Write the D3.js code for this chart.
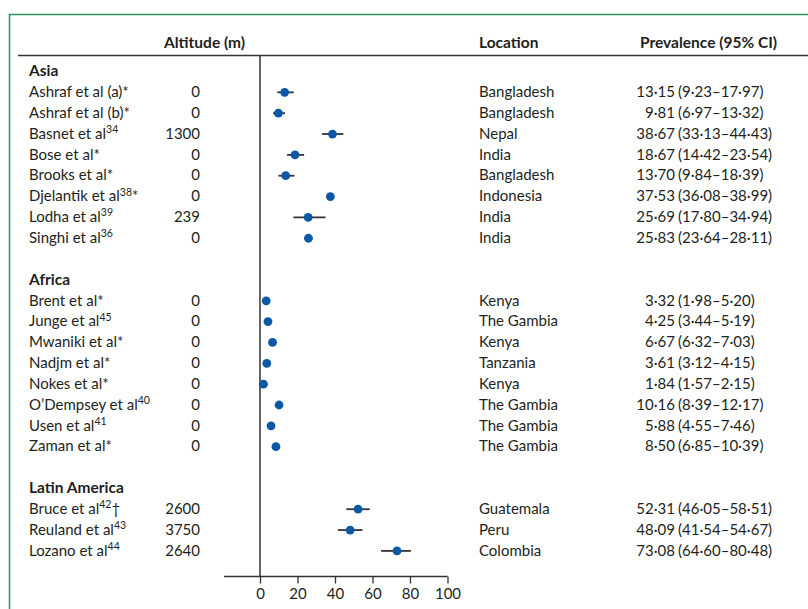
<!DOCTYPE html>
<html>
<head>
<meta charset="utf-8">
<script src="https://cdn.jsdelivr.net/npm/d3@7"></script>
<style>
  html, body { margin: 0; padding: 0; background: #fff; }
  svg { display: block; }
  text { font-family: Lato, "Open Sans", sans-serif; fill: #231f20; }
</style>
</head>
<body>
<svg id="chart" width="808" height="609"></svg>
<script>
// ---- data ----
const regions = ["Asia", "Africa", "Latin America"];
const studyRegion = [0,0,0,0,0,0,0,0, 1,1,1,1,1,1,1,1, 2,2,2];
const studyNames = [
  "Ashraf et al (a)*", "Ashraf et al (b)*", "Basnet et al", "Bose et al*", "Brooks et al*",
  "Djelantik et al", "Lodha et al", "Singhi et al",
  "Brent et al*", "Junge et al", "Mwaniki et al*", "Nadjm et al*", "Nokes et al*",
  "O\u2019Dempsey et al", "Usen et al", "Zaman et al*",
  "Bruce et al", "Reuland et al", "Lozano et al"
];
const studyRefs = ["", "", "34", "", "", "38", "39", "36",
  "", "45", "", "", "", "40", "41", "",
  "42", "43", "44"];
const studySuffix = ["", "", "", "", "", "*", "", "",
  "", "", "", "", "", "", "", "",
  "\u2020", "", ""];
const altitudes = [0, 0, 1300, 0, 0, 0, 239, 0,
  0, 0, 0, 0, 0, 0, 0, 0,
  2600, 3750, 2640];
const locations = ["Bangladesh", "Bangladesh", "Nepal", "India", "Bangladesh", "Indonesia", "India", "India",
  "Kenya", "The Gambia", "Kenya", "Tanzania", "Kenya", "The Gambia", "The Gambia", "The Gambia",
  "Guatemala", "Peru", "Colombia"];
const prevalence = [13.15, 9.81, 38.67, 18.67, 13.70, 37.53, 25.69, 25.83,
  3.32, 4.25, 6.67, 3.61, 1.84, 10.16, 5.88, 8.50,
  52.31, 48.09, 73.08];
const ciLower = [9.23, 6.97, 33.13, 14.42, 9.84, 36.08, 17.80, 23.64,
  1.98, 3.44, 6.32, 3.12, 1.57, 8.39, 4.55, 6.85,
  46.05, 41.54, 64.60];
const ciUpper = [17.97, 13.32, 44.43, 23.54, 18.39, 38.99, 34.94, 28.11,
  5.20, 5.19, 7.03, 4.15, 2.15, 12.17, 7.46, 10.39,
  58.51, 54.67, 80.48];
const xTicks = [0, 20, 40, 60, 80, 100];
const headers = ["Altitude (m)", "Location", "Prevalence (95% CI)"];

// ---- build row list (region headers, studies, blank separators) ----
const rows = [];
regions.forEach((r, ri) => {
  if (ri > 0) rows.push({ type: "blank" });
  rows.push({ type: "region", label: r });
  studyRegion.forEach((sr, i) => { if (sr === ri) rows.push({ type: "study", i }); });
});
rows.forEach((r, k) => r.k = k);
const studies = rows.filter(r => r.type === "study");

const fmt = v => v.toFixed(2).replace(".", "\u00b7");

// ---- layout ----
const svg = d3.select("#chart");
const green = "#2a9160";
const ink = "#231f20";
const fs = 15;

const y = d3.scaleLinear().domain([0, rows.length - 1]).range([71, 550.4]);
const x = d3.scaleLinear().domain([0, 100]).range([260, 447.5]);
const axisY = 576.5;

// frame
svg.append("line").attr("x1", 9).attr("x2", 808).attr("y1", 14.5).attr("y2", 14.5)
  .attr("stroke", green).attr("stroke-width", 1.5);
svg.append("line").attr("x1", 9.5).attr("x2", 9.5).attr("y1", 14).attr("y2", 609)
  .attr("stroke", green).attr("stroke-width", 1.5);

// headers
const hdrX = [164, 479, 640];
svg.selectAll("text.hdr").data(headers).join("text")
  .attr("class", "hdr")
  .attr("x", (d, i) => hdrX[i]).attr("y", 47.5)
  .attr("font-weight", "bold").attr("font-size", 15.5)
  .text(d => d);
svg.append("line").attr("x1", 18).attr("x2", 808).attr("y1", 55.5).attr("y2", 55.5)
  .attr("stroke", "#333").attr("stroke-width", 1.5);

// zero line
svg.append("line").attr("x1", x(0)).attr("x2", x(0)).attr("y1", 55.5).attr("y2", axisY)
  .attr("stroke", "#333").attr("stroke-width", 1.5);

// x axis
const axisG = svg.append("g").attr("transform", `translate(0,${axisY})`)
  .call(d3.axisBottom(x).tickValues(xTicks).tickSize(7).tickPadding(5).tickFormat(d3.format("d")));
axisG.select(".domain").remove();
axisG.append("line").attr("x1", x(-19.2)).attr("x2", x(100)).attr("y1", 0).attr("y2", 0)
  .attr("stroke", "#333").attr("stroke-width", 1.5);
axisG.selectAll(".tick line").attr("stroke", "#333").attr("stroke-width", 1.3);
axisG.selectAll(".tick text").attr("font-family", "Lato, 'Open Sans', sans-serif")
  .attr("font-size", fs).attr("fill", ink);

// region labels
svg.selectAll("text.region").data(rows.filter(r => r.type === "region")).join("text")
  .attr("class", "region")
  .attr("x", 29).attr("y", d => y(d.k)).attr("dy", "0.35em")
  .attr("font-weight", "bold").attr("font-size", 15.5)
  .text(d => d.label);

// study labels with superscripts
const lab = svg.selectAll("text.study").data(studies).join("text")
  .attr("class", "study")
  .attr("x", 29).attr("y", d => y(d.k)).attr("dy", "0.35em")
  .attr("font-size", fs);
lab.append("tspan").text(d => studyNames[d.i]);
lab.filter(d => studyRefs[d.i]).append("tspan")
  .attr("font-size", 10.5).attr("dy", "-0.55em").text(d => studyRefs[d.i]);
lab.filter(d => studySuffix[d.i]).append("tspan")
  .attr("font-size", fs).attr("dy", d => studyRefs[d.i] ? "0.38em" : 0).text(d => studySuffix[d.i]);

// altitude
svg.selectAll("text.alt").data(studies).join("text")
  .attr("class", "alt")
  .attr("x", 200).attr("y", d => y(d.k)).attr("dy", "0.35em")
  .attr("text-anchor", "end").attr("font-size", fs)
  .text(d => altitudes[d.i]);

// location
svg.selectAll("text.loc").data(studies).join("text")
  .attr("class", "loc")
  .attr("x", 479).attr("y", d => y(d.k)).attr("dy", "0.35em")
  .attr("font-size", fs)
  .text(d => locations[d.i]);

// prevalence estimate and CI
svg.selectAll("text.est").data(studies).join("text")
  .attr("class", "est")
  .attr("x", 675).attr("y", d => y(d.k)).attr("dy", "0.35em")
  .attr("text-anchor", "end").attr("font-size", fs)
  .text(d => fmt(prevalence[d.i]));
svg.selectAll("text.ci").data(studies).join("text")
  .attr("class", "ci")
  .attr("x", 678).attr("y", d => y(d.k)).attr("dy", "0.35em")
  .attr("font-size", fs)
  .text(d => `(${fmt(ciLower[d.i])}\u2013${fmt(ciUpper[d.i])})`);

// error bars and points
svg.selectAll("line.ci").data(studies).join("line")
  .attr("class", "ci")
  .attr("x1", d => x(ciLower[d.i])).attr("x2", d => x(ciUpper[d.i]))
  .attr("y1", d => y(d.k) + 0.5).attr("y2", d => y(d.k) + 0.5)
  .attr("stroke", "#333").attr("stroke-width", 1.8);
svg.selectAll("circle.pt").data(studies).join("circle")
  .attr("class", "pt")
  .attr("cx", d => x(prevalence[d.i])).attr("cy", d => y(d.k) + 0.5)
  .attr("r", 4.4).attr("fill", "#0b58a4");
</script>
</body>
</html>
